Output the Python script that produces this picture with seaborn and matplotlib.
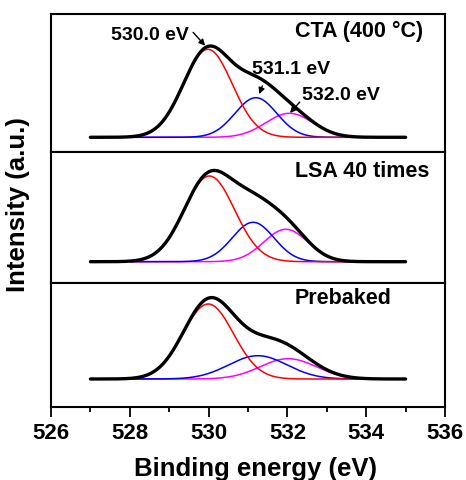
import numpy as np
import pandas as pd
import matplotlib
matplotlib.use("Agg")
import matplotlib.pyplot as plt
import seaborn as sns

sns.set_theme(style="white")
plt.rcParams['font.family'] = ['Liberation Sans', 'DejaVu Sans']
plt.rcParams['font.weight'] = 'bold'
plt.rcParams['text.color'] = 'black'
plt.rcParams['axes.labelcolor'] = 'black'
plt.rcParams['xtick.color'] = 'black'

# ---- data ----
panels = ["CTA (400 °C)", "LSA 40 times", "Prebaked"]
# Fitted O 1s components: centre (eV), height (a.u.), sigma (eV)
red_center = [529.98, 530.02, 529.99]
red_height = [88.0, 85.7, 75.0]
red_sigma = [0.62, 0.64, 0.64]
blue_center = [531.20, 531.13, 531.25]
blue_height = [39.6, 39.4, 23.3]
blue_sigma = [0.53, 0.53, 0.74]
mag_center = [532.05, 531.96, 532.02]
mag_height = [24.0, 32.4, 20.3]
mag_sigma = [0.60, 0.56, 0.71]
envelope_range = [527.0, 535.0]
component_range = [528.0, 534.0]
peak_labels = ["530.0 eV", "531.1 eV", "532.0 eV"]
x_ticks = [526, 528, 530, 532, 534, 536]
y_limits = [(-14.7, 123.3), (-21.3, 109.7), (-28.0, 96.0)]

def gauss(x, c, h, s):
    return h * np.exp(-(x - c) ** 2 / (2 * s ** 2))

fig, axes = plt.subplots(3, 1, figsize=(4.66, 4.8), dpi=100, sharex=True,
                         gridspec_kw=dict(height_ratios=[138, 131, 124], hspace=0))
fig.subplots_adjust(left=51/466, right=445/466, top=1-14/480, bottom=1-407/480)

for i, ax in enumerate(axes):
    xe = np.linspace(envelope_range[0], envelope_range[1], 400)
    xc = np.linspace(component_range[0], component_range[1], 300)
    comps = {
        "red": gauss(xc, red_center[i], red_height[i], red_sigma[i]),
        "blue": gauss(xc, blue_center[i], blue_height[i], blue_sigma[i]),
        "magenta": gauss(xc, mag_center[i], mag_height[i], mag_sigma[i]),
    }
    env = (gauss(xe, red_center[i], red_height[i], red_sigma[i])
           + gauss(xe, blue_center[i], blue_height[i], blue_sigma[i])
           + gauss(xe, mag_center[i], mag_height[i], mag_sigma[i]))
    for col in ["magenta", "blue", "red"]:
        df = pd.DataFrame({"x": xc, "y": comps[col]})
        sns.lineplot(data=df, x="x", y="y", ax=ax, color=col, lw=1.1, zorder=2)
    dfe = pd.DataFrame({"x": xe, "y": env})
    sns.lineplot(data=dfe, x="x", y="y", ax=ax, color="black", lw=2.4, zorder=3)

    ax.set_xlim(526, 536)
    ax.set_ylim(*y_limits[i])
    ax.set_yticks([])
    ax.set_ylabel("")
    ax.set_xlabel("")
    for sp in ax.spines.values():
        sp.set_linewidth(1.5)
        sp.set_color("black")
    ax.text(532.19, [106.0, 90.5, 80.5][i], panels[i], fontsize=15.5, fontweight='bold',
            ha='left', va='center', color='black')

# peak annotations on the top panel
ax0 = axes[0]
ax0.text(529.50, 102.3, peak_labels[0], fontsize=14, fontweight='bold', ha='right', va='center')
ax0.annotate("", xy=(529.96, 89.5), xytext=(529.56, 107.0),
             arrowprops=dict(arrowstyle='-|>', color='black', lw=1.0, mutation_scale=9))
ax0.text(531.10, 67.3, peak_labels[1], fontsize=14, fontweight='bold', ha='left', va='center')
ax0.annotate("", xy=(531.26, 40.6), xytext=(531.39, 54.0),
             arrowprops=dict(arrowstyle='-|>', color='black', lw=1.0, mutation_scale=9))
ax0.text(532.38, 42.3, peak_labels[2], fontsize=14, fontweight='bold', ha='left', va='center')
ax0.annotate("", xy=(532.02, 22.3), xytext=(532.36, 37.3),
             arrowprops=dict(arrowstyle='-|>', color='black', lw=1.0, mutation_scale=9))

axb = axes[-1]
axb.set_xticks(x_ticks)
axb.set_xticks(np.arange(526, 537, 1), minor=True)
for ax in axes[:-1]:
    ax.tick_params(axis='x', which='both', bottom=False, labelbottom=False)
axb.tick_params(axis='x', which='major', direction='out', length=7.2, width=1.3,
                bottom=True, labelsize=16, pad=4, colors='black')
axb.tick_params(axis='x', which='minor', direction='out', length=3.6, width=1.3, bottom=True)
for lbl in axb.get_xticklabels():
    lbl.set_fontweight('bold')
axb.set_xlabel("Binding energy (eV)", fontsize=18.5, fontweight='bold', labelpad=10)
axb.xaxis.label.set_x((255.7 - 51) / 394)
fig.text(18/466, 1-205/480, "Intensity (a.u.)", rotation=90, fontsize=18.5,
         fontweight='bold', ha='center', va='center')

fig.savefig("out.png", dpi=100)
